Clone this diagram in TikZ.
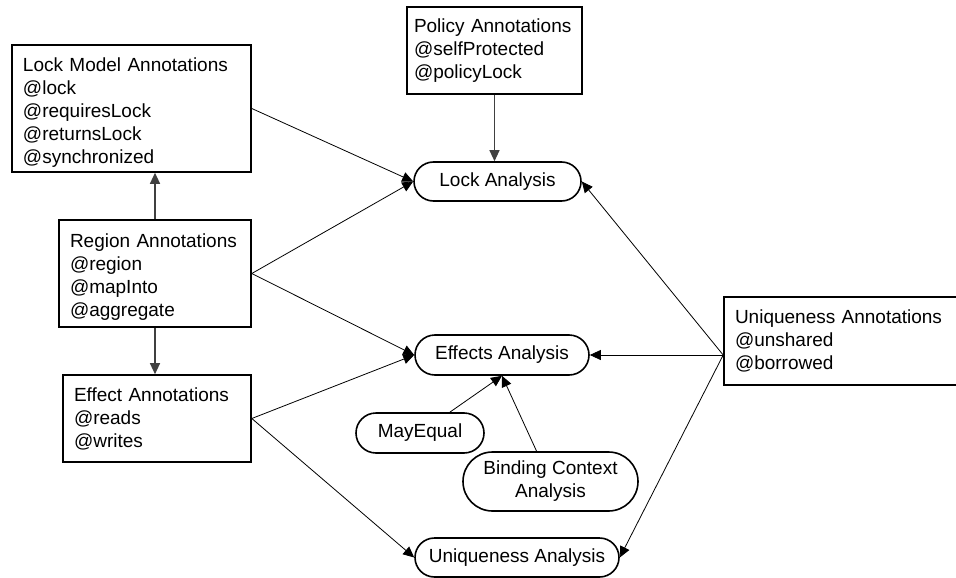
\documentclass[tikz,border=0pt]{standalone}
\usepackage{fontspec}
\setmainfont{Liberation Sans}
\usetikzlibrary{arrows.meta, shapes.misc}

\begin{document}
\begin{tikzpicture}[
    x=1pt, y=-1pt,
    annot/.style={draw, rectangle, fill=white, line width=1.6pt,
                  align=left, inner xsep=11pt, inner ysep=0pt,
                  font=\fontsize{19}{23}\selectfont},
    analysis/.style={draw, rounded rectangle, fill=white, line width=1.6pt,
                     align=center, inner sep=0pt, minimum height=39pt,
                     font=\fontsize{19}{23}\selectfont},
    feed/.style={-{Triangle[length=11pt, width=10pt]}, line width=0.8pt},
    uses/.style={-{Triangle[length=11pt, width=10pt]}, line width=1.2pt, black!75},
  ]
    \path[use as bounding box, fill=white] (0,0) rectangle (956,578);

    \node[annot, text width=217pt, minimum height=127pt] (lockmodel) at (131.5,108.5)
      {\rule{0pt}{22pt}Lock Model Annotations\\@lock\\@requiresLock\\@returnsLock\\@synchronized};
    \node[annot, text width=161pt, inner xsep=7pt, minimum height=87pt] (policy) at (494.5,50.5)
      {Policy Annotations\\@selfProtected\\@policyLock};
    \node[annot, text width=170pt, minimum height=107pt] (region) at (155,273.5)
      {\rule{0pt}{20pt}Region Annotations\\@region\\@mapInto\\@aggregate};
    \node[annot, text width=166pt, minimum height=87pt] (effect) at (157,418.5)
      {Effect Annotations\\@reads\\@writes};
    \node[annot, text width=216pt, minimum height=88pt] (uanno) at (843,341)
      {Uniqueness Annotations\\@unshared\\@borrowed};

    \node[analysis, minimum width=167pt] (lock) at (497.5,181.5) {Lock Analysis};
    \node[analysis, minimum width=174pt, minimum height=40pt] (effects) at (502,355) {Effects Analysis};
    \node[analysis, minimum width=128pt, minimum height=40pt] (mayequal) at (420,433) {MayEqual};
    \node[analysis, minimum width=175pt, minimum height=59pt] (binding) at (550.5,481.5)
      {Binding Context\\Analysis};
    \node[analysis, minimum width=204pt] (uniq) at (517,557.5) {Uniqueness Analysis};

    \draw[uses] (region.north) -- (region.north |- lockmodel.south);
    \draw[uses] (region.south) -- (region.south |- effect.north);
    \draw[uses] (policy.south) -- (policy.south |- lock.north);

    \draw[feed] (lockmodel.east) -- (lock.west);
    \draw[feed] (region.east) -- (lock.west);
    \draw[feed] (region.east) -- (effects.west);
    \draw[feed] (effect.east) -- (effects.west);
    \draw[feed] (effect.east) -- (uniq.west);
    \draw[feed] (mayequal) -- (effects.south);
    \draw[feed] (binding) -- (effects.south);

    \draw[feed] (uanno.west |- effects) -- (lock.east);
    \draw[feed] (uanno.west |- effects) -- (effects.east);
    \draw[feed] (uanno.west |- effects) -- (uniq.east);
\end{tikzpicture}
\end{document}
